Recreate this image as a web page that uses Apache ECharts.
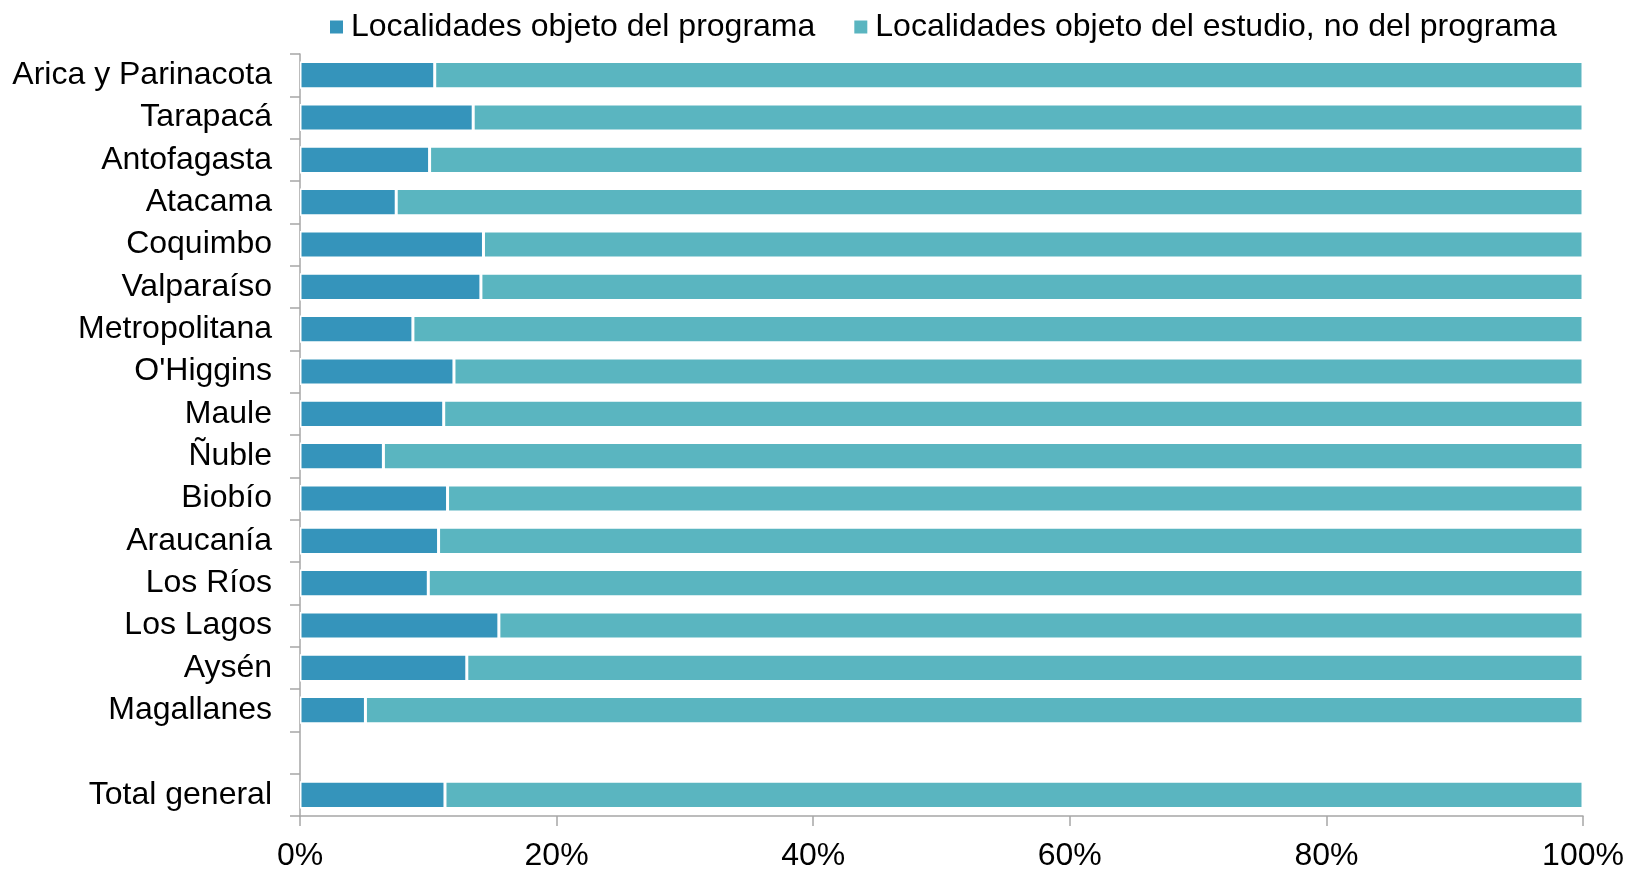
<!DOCTYPE html>
<html>
<head>
<meta charset="utf-8">
<title>Localidades</title>
<script src="https://cdn.jsdelivr.net/npm/echarts@6/dist/echarts.min.js"></script>
<style>
	html, body { margin: 0; padding: 0; background: #fff; }
	#main { width: 1628px; height: 872px; }
</style>
</head>
<body>
<div id="main"></div>
<script>
// regiones (la categoria vacia deja el hueco antes del total)
var regiones = ['Arica y Parinacota', 'Tarapacá', 'Antofagasta', 'Atacama', 'Coquimbo', 'Valparaíso',
	'Metropolitana', "O'Higgins", 'Maule', 'Ñuble', 'Biobío', 'Araucanía', 'Los Ríos', 'Los Lagos',
	'Aysén', 'Magallanes', '', 'Total general'];

// % localidades objeto del programa
var delPrograma = [10.5, 13.5, 10.1, 7.5, 14.3, 14.1, 8.8, 12.0, 11.2, 6.5, 11.5, 10.8, 10.0, 15.5,
	13.0, 5.1, null, 11.3];

// % localidades objeto del estudio, no del programa
var noDelPrograma = [89.5, 86.5, 89.9, 92.5, 85.7, 85.9, 91.2, 88.0, 88.8, 93.5, 88.5, 89.2, 90.0, 84.5,
	87.0, 94.9, null, 88.7];

var ticksX = [0, 20, 40, 60, 80, 100];

var fuente = 'Liberation Sans, Arial, sans-serif';
var gris = '#a6a6a6';

var myChart = echarts.init(document.getElementById('main'));
myChart.setOption({
	animation: false,
	textStyle: { fontFamily: fuente },
	legend: {
		top: 6,
		left: 323,
		itemWidth: 15,
		itemHeight: 15,
		itemGap: 37,
		icon: 'rect',
		textStyle: { fontSize: 32, color: '#000', fontFamily: fuente, padding: [0, 0, 0, 2] },
		data: ['Localidades objeto del programa', 'Localidades objeto del estudio, no del programa']
	},
	grid: {
		left: 300,
		right: 45,
		top: 54,
		bottom: 52,
		containLabel: false
	},
	xAxis: {
		type: 'value',
		min: ticksX[0],
		max: ticksX[ticksX.length - 1],
		interval: 20,
		splitLine: { show: false },
		axisLine: { show: true, lineStyle: { color: gris, width: 1.5 } },
		axisTick: { show: true, length: 10, lineStyle: { color: gris, width: 1.5 } },
		axisLabel: {
			fontSize: 32,
			color: '#000',
			margin: 24,
			formatter: '{value}%'
		}
	},
	yAxis: {
		type: 'category',
		inverse: true,
		data: regiones,
		axisLine: { show: true, lineStyle: { color: gris, width: 1.5 } },
		axisTick: { show: true, length: 10, lineStyle: { color: gris, width: 1.5 } },
		axisLabel: {
			fontSize: 32,
			color: '#000',
			margin: 28,
			interval: 0
		}
	},
	series: [
		{
			name: 'Localidades objeto del programa',
			type: 'bar',
			stack: 'total',
			barCategoryGap: '36%',
			itemStyle: { color: '#3594bb', borderColor: '#fff', borderWidth: 1.5 },
			data: delPrograma
		},
		{
			name: 'Localidades objeto del estudio, no del programa',
			type: 'bar',
			stack: 'total',
			barCategoryGap: '36%',
			itemStyle: { color: '#5ab5c0', borderColor: '#fff', borderWidth: 1.5 },
			data: noDelPrograma
		}
	]
});
</script>
</body>
</html>
